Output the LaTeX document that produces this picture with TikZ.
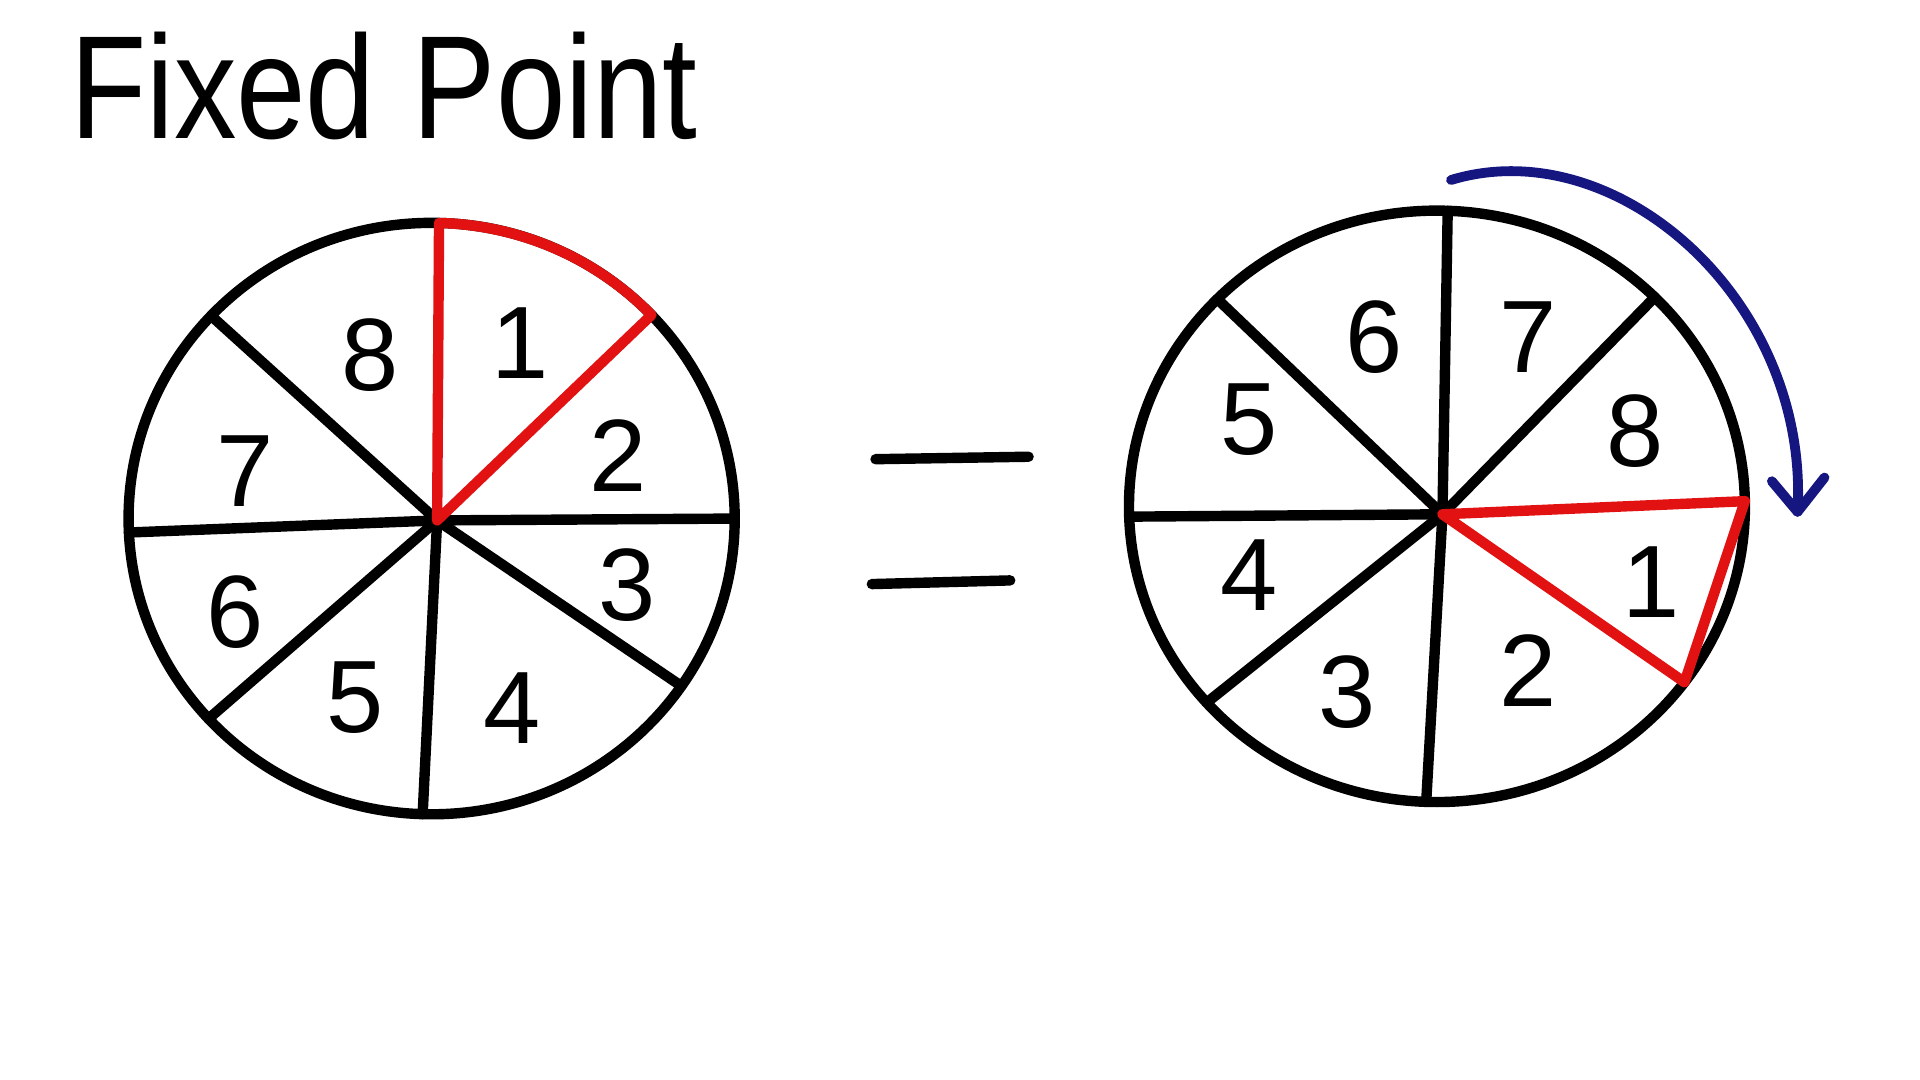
\documentclass[tikz,border=0pt]{standalone}
\usepackage{fontspec}
\setmainfont{Liberation Sans}
\definecolor{inkred}{RGB}{226,18,18}
\definecolor{inkblue}{RGB}{22,22,128}
\begin{document}
\begin{tikzpicture}[x=1pt,y=-1pt,line cap=round,line join=round,
  ink/.style={line width=8.5pt,black},
  redink/.style={line width=8.5pt,inkred},
  blueink/.style={line width=8pt,inkblue},
  num/.style={font=\fontsize{84}{84}\selectfont,inner sep=0pt}]
\useasboundingbox[fill=white] (0,0) rectangle (1568,882);

% title
\node[anchor=base west,inner sep=0pt] (title) at (57,113)
  {\scalebox{0.85}[1]{\fontsize{120}{120}\selectfont Fixed\hspace{0.3em}Point}};

% ---------- left wheel ----------
\coordinate (Lcen) at (352.5,423.5);
\coordinate (Lc) at (357,425);
\path (Lcen) +(-88.6:247.5 and 241.5) coordinate (L1)
      (Lcen) +(-43.5:247.5 and 241.5) coordinate (L2)
      (Lcen) +(0:247.5 and 241.5) coordinate (L3)
      (Lcen) +(34.5:247.5 and 241.5) coordinate (L4)
      (Lcen) +(91.7:247.5 and 241.5) coordinate (L5)
      (Lcen) +(137.4:247.5 and 241.5) coordinate (L6)
      (Lcen) +(177.3:247.5 and 241.5) coordinate (L7)
      (Lcen) +(223.3:247.5 and 241.5) coordinate (L8);
\draw[ink] (Lcen) ellipse [x radius=247.5,y radius=241.5];
\foreach \i in {3,...,8} \draw[ink] (Lc) -- (L\i);
\draw[redink] (Lc) -- (L1) arc[start angle=-88.6,end angle=-43.5,x radius=247.5,y radius=241.5] -- cycle;

\node[num] (l1) at (425,280) {1};
\node[num] (l2) at (505,372) {2};
\node[num] (l3) at (512,478) {3};
\node[num] (l4) at (418,578) {4};
\node[num] (l5) at (290,570) {5};
\node[num] (l6) at (192,500) {6};
\node[num] (l7) at (200,385) {7};
\node[num] (l8) at (302,290) {8};

% ---------- equals ----------
\coordinate (e1a) at (715,375); \coordinate (e1b) at (840,373);
\coordinate (e2a) at (712,477); \coordinate (e2b) at (825,474);
\draw[ink] (e1a) -- (e1b);
\draw[ink] (e2a) -- (e2b);

% ---------- right wheel ----------
\coordinate (Rcen) at (1173.5,413.5);
\coordinate (Rc) at (1178,420);
\path (Rcen) +(-88:251.5 and 241.5) coordinate (R7)
      (Rcen) +(-45:251.5 and 241.5) coordinate (R8)
      (Rcen) +(-1:251.5 and 241.5) coordinate (R1)
      (Rcen) +(36.5:251.5 and 241.5) coordinate (R2)
      (Rcen) +(92:251.5 and 241.5) coordinate (R3)
      (Rcen) +(138.4:251.5 and 241.5) coordinate (R4)
      (Rcen) +(178:251.5 and 241.5) coordinate (R5)
      (Rcen) +(224.5:251.5 and 241.5) coordinate (R6);
\draw[ink] (Rcen) ellipse [x radius=251.5,y radius=241.5];
\foreach \i in {3,...,8} \draw[ink] (Rc) -- (R\i);
\draw[redink] (Rc) -- (R1) -- (R2) -- cycle;

\node[num] (r7) at (1248,275) {7};
\node[num] (r8) at (1335,352) {8};
\node[num] (r1) at (1348,475) {1};
\node[num] (r2) at (1248,548) {2};
\node[num] (r3) at (1100,565) {3};
\node[num] (r4) at (1020,470) {4};
\node[num] (r5) at (1020,343) {5};
\node[num] (r6) at (1122,275) {6};

% ---------- rotation arrow ----------
\coordinate (As) at (1185,147);
\coordinate (Ae) at (1468,418);
\coordinate (Ah1) at (1447,393);
\coordinate (Ah2) at (1490,390);
\draw[blueink] (As) .. controls (1320,106) and (1478,245) .. (Ae);
\draw[blueink] (Ah1) -- (Ae) -- (Ah2);
\end{tikzpicture}
\end{document}
